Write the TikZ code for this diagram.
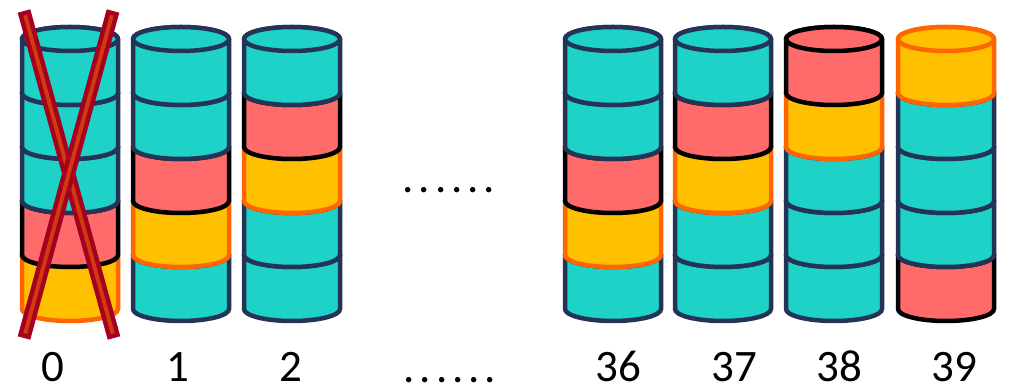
\documentclass[tikz,border=0pt]{standalone}
\usepackage{fontspec}
\setmainfont{Carlito}

\definecolor{cylteal}{HTML}{1ED2C8}
\definecolor{cylnavy}{HTML}{243457}
\definecolor{cylpink}{HTML}{FF6B6B}
\definecolor{cylgold}{HTML}{FFC000}
\definecolor{cylorange}{HTML}{FF6600}
\definecolor{crossred}{HTML}{A50021}
\definecolor{crossinner}{HTML}{D03A0C}

\tikzset{
  T/.style={fill=cylteal, draw=cylnavy},
  P/.style={fill=cylpink, draw=black},
  Y/.style={fill=cylgold, draw=cylorange},
  segline/.style={line width=4.5pt, line join=round},
  idx/.style={anchor=base, inner sep=0pt, text depth=0pt,
    font=\fontsize{45}{45}\selectfont},
  dots/.style={anchor=base, inner sep=0pt, text depth=0pt,
    font=\fontsize{45}{45}\selectfont\addfontfeature{LetterSpace=11}},
  barout/.style={line width=13pt, draw=crossred},
  barin/.style={line width=4pt, draw=crossinner, shorten <=4.5pt, shorten >=4.5pt},
}

% one cylinder segment: centre x, top y (measured downwards), style
\newcommand\seg[3]{%
  \path[segline,#3] (#1-48,-#2) -- (#1-48,-#2-54)
    arc[start angle=180, end angle=360, x radius=48pt, y radius=12pt]
    -- (#1+48,-#2)
    arc[start angle=0, end angle=180, x radius=48pt, y radius=12pt] -- cycle;
  \path[segline,#3] (#1,-#2) ellipse[x radius=48pt, y radius=12pt];
}
% a stack of five segments, listed from bottom to top
\newcommand\stack[2]{%
  \foreach \s [count=\i] in {#2}{%
    \pgfmathsetmacro\yt{39+(5-\i)*54}%
    \seg{#1}{\yt}{\s}%
  }%
}

\begin{document}
\begin{tikzpicture}[x=1pt, y=1pt]
  \useasboundingbox (0,0) rectangle (1012,-387);

  \stack{70}{Y,P,T,T,T}
  \stack{181}{T,Y,P,T,T}
  \stack{292}{T,T,Y,P,T}
  \stack{613}{T,Y,P,T,T}
  \stack{723}{T,T,Y,P,T}
  \stack{834}{T,T,T,Y,P}
  \stack{946}{P,T,T,T,Y}

  % crossed-out first stack
  \coordinate (xa1) at (24,-11);
  \coordinate (xa2) at (114,-338);
  \coordinate (xb1) at (113,-11);
  \coordinate (xb2) at (24,-338);
  \draw[barout] (xa1) -- (xa2);
  \draw[barin] (xa1) -- (xa2);
  \draw[barout] (xb1) -- (xb2);
  \draw[barin] (xb1) -- (xb2);

  \node[dots] (gap) at (449,-193) {......};

  \node[idx] (n0) at (53,-381) {0};
  \node[idx] (n1) at (178,-381) {1};
  \node[idx] (n2) at (291,-381) {2};
  \node[dots] (ngap) at (450,-382) {......};
  \node[idx] (n36) at (618,-381) {36};
  \node[idx] (n37) at (734,-381) {37};
  \node[idx] (n38) at (839,-381) {38};
  \node[idx] (n39) at (954,-381) {39};
\end{tikzpicture}
\end{document}
